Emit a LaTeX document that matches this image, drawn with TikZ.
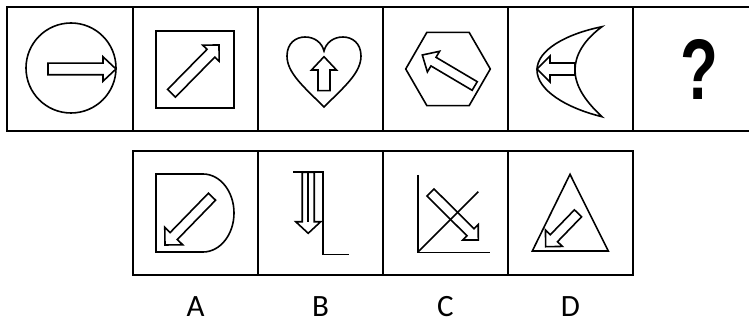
\documentclass[tikz,border=0pt]{standalone}
\usepackage{fontspec}
\setmainfont{Liberation Sans}
\newfontfamily\optfont{Carlito}
\usetikzlibrary{calc}

% hollow arrow: tail, tip, shaft half width, head half width, head length
\newcommand{\hollowarrow}[5]{%
  \coordinate (ha) at (#1);
  \coordinate (hz) at (#2);
  \coordinate (hb) at ($(hz)!#5!(ha)$);
  \draw[figline] ($(ha)!#3!90:(hz)$) -- ($(hb)!#3!90:(hz)$) -- ($(hb)!#4!90:(hz)$)
    -- (hz) -- ($(hb)!#4!-90:(hz)$) -- ($(hb)!#3!-90:(hz)$) -- ($(ha)!#3!-90:(hz)$) -- cycle;
}

\begin{document}
\begin{tikzpicture}[x=1pt,y=-1pt,
  frame/.style={line width=2.2pt},
  figline/.style={line width=1.6pt},
  optlabel/.style={font=\optfont\fontsize{31}{31}\selectfont,anchor=base,inner sep=0pt}]
  \useasboundingbox (0,0) rectangle (749,323);
  \clip (0,0) rectangle (749,323);

  % --- top row frame
  \draw[frame] (7,7) rectangle (762,131);
  \foreach \xd in {133,258,383,508,633}
    \draw[frame] (\xd,7) -- (\xd,131);

  % --- 1: circle
  \draw[figline] (71,68) circle[radius=45];
  \hollowarrow{48,69}{116,69}{5.8pt}{12.2pt}{13pt}

  % --- 2: square
  \draw[figline] (156,31) rectangle (234,108);
  \hollowarrow{171.5,93.3}{219,45}{5.5pt}{11.5pt}{11.5pt}

  % --- 3: heart
  \draw[figline] (324,107) .. controls (304,87) and (287,73) .. (287,56)
    .. controls (287,43) and (296,37) .. (305,37)
    .. controls (315,37) and (322,43) .. (324,51)
    .. controls (326,43) and (333,37) .. (343,37)
    .. controls (352,37) and (361,43) .. (361,56)
    .. controls (361,73) and (344,87) .. (324,107) -- cycle;
  \hollowarrow{324,90.7}{324,56.7}{6pt}{12.5pt}{13.3pt}

  % --- 4: hexagon
  \draw[figline] (448,69) +(0:42.3) -- +(60:42.3) -- +(120:42.3) -- +(180:42.3)
    -- +(240:42.3) -- +(300:42.3) -- cycle;
  \hollowarrow{474.7,86}{422.3,55}{5pt}{12pt}{13pt}

  % --- 5: crescent
  \draw[figline] (602,26.7) .. controls (566,34) and (537,50) .. (537,70)
    .. controls (537,90) and (566,108) .. (602,116.7)
    .. controls (584,100) and (575,85) .. (575,70)
    .. controls (575,55) and (584,40) .. (602,26.7) -- cycle;
  \hollowarrow{575,69}{537,69}{6pt}{13pt}{13pt}

  % --- 6: question mark
  \node[xscale=0.72,anchor=base,inner sep=0pt,font=\bfseries\fontsize{86}{86}\selectfont] (qm) at (699,100) {?};

  % --- bottom row frame
  \draw[frame] (133,151) rectangle (633,275);
  \foreach \xd in {258,383,508}
    \draw[frame] (\xd,151) -- (\xd,275);

  % --- A
  \draw[figline] (156,174) -- (203,174) arc[start angle=-90, end angle=90, x radius=31, y radius=39] -- (156,252) -- cycle;
  \hollowarrow{212,196.7}{165,245}{5pt}{12.5pt}{12.5pt}

  % --- B
  \draw[figline] (293,172.3) -- (323,172.3) -- (323,254.3) -- (349,254.3);
  \hollowarrow{308.2,172.3}{308.2,233.3}{6pt}{12.5pt}{11.6pt}
  \draw[figline] (308.2,172.3) -- (308.2,221.7);

  % --- C
  \draw[figline] (417.7,175) -- (417.7,252.3) -- (490,252.3);
  \draw[figline] (417.7,252.3) -- (478.3,191.7);
  \hollowarrow{430.5,192.5}{478.3,240}{5pt}{11pt}{11pt}

  % --- D
  \draw[figline] (570,174.3) -- (608.3,251) -- (532.3,251) -- cycle;
  \hollowarrow{578,213.3}{545.7,246.7}{5pt}{11.8pt}{11.8pt}

  % --- option letters
  \node[optlabel] (la) at (195.5,316.7) {A};
  \node[optlabel] (lb) at (320.5,316.7) {B};
  \node[optlabel] (lc) at (445.5,316.7) {C};
  \node[optlabel] (ld) at (570.5,316.7) {D};
\end{tikzpicture}
\end{document}
